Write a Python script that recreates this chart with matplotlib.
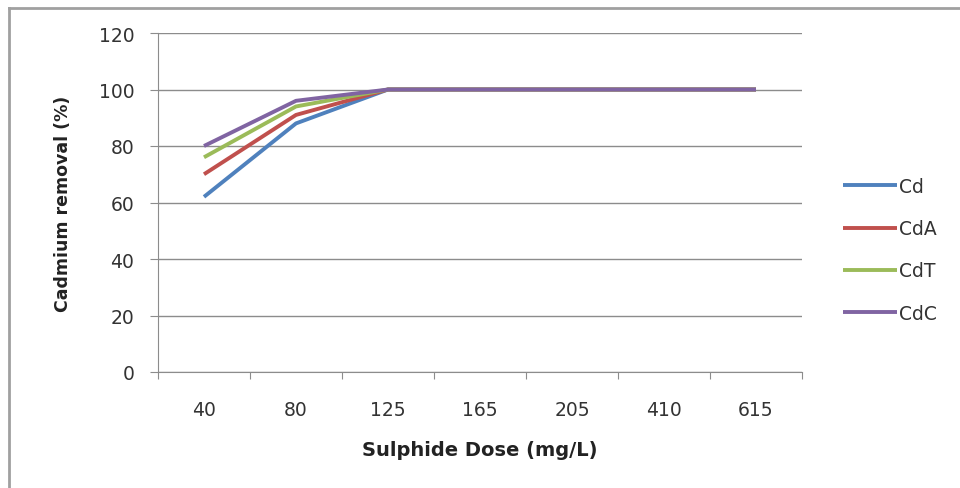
import matplotlib
matplotlib.use("Agg")
import matplotlib.pyplot as plt
from matplotlib.lines import Line2D
import numpy as np

doses = ["40", "80", "125", "165", "205", "410", "615"]
cd = [62, 88, 100, 100, 100, 100, 100]
cda = [70, 91, 100, 100, 100, 100, 100]
cdt = [76, 94, 100, 100, 100, 100, 100]
cdc = [80, 96, 100, 100, 100, 100, 100]
series_names = ["Cd", "CdA", "CdT", "CdC"]
colors = ["#4F81BD", "#C0504D", "#9BBB59", "#8064A2"]

plt.rcParams['font.family'] = ['DejaVu Sans']

fig = plt.figure(figsize=(9.6, 4.89), dpi=100)
ax = fig.add_axes([158/960, 1-373/489, (802-158)/960, (373-34)/489])

x = np.arange(len(doses))
for vals, name, c in zip([cd, cda, cdt, cdc], series_names, colors):
    ax.plot(x, vals, color=c, lw=2.8, label=name, solid_capstyle='butt')

ax.set_xlim(-0.5, len(doses) - 0.5)
ax.set_ylim(0, 120)
ax.set_yticks(np.arange(0, 121, 20))
ax.yaxis.grid(True, color="#8C8C8C", lw=1)
ax.set_axisbelow(True)

ax.set_xticks(np.arange(-0.5, len(doses), 1.0))
ax.set_xticklabels([])
ax.set_xticks(x, minor=True)
ax.set_xticklabels(doses, minor=True)
ax.tick_params(axis='x', which='major', length=5, color="#8C8C8C", direction='out')
ax.tick_params(axis='x', which='minor', length=0, pad=20, labelsize=13.5, labelcolor="#333333")
ax.tick_params(axis='y', length=6, color="#8C8C8C", labelsize=13.5, labelcolor="#333333", pad=11)

for s in ["top", "right"]:
    ax.spines[s].set_visible(False)
for s in ["left", "bottom"]:
    ax.spines[s].set_color("#8C8C8C")

ax.set_xlabel("Sulphide Dose (mg/L)", fontsize=14, fontweight='bold', labelpad=15, color="#222222")
ax.set_ylabel("Cadmium removal (%)", fontsize=12.5, fontweight='bold', labelpad=19, color="#222222")

leg = ax.legend(loc='upper left', bbox_to_anchor=(843/960, 1-178/489),
                bbox_transform=fig.transFigure, frameon=False, borderpad=0, borderaxespad=0,
                fontsize=13.5, handlelength=2.9, handletextpad=0.1, labelspacing=1.24)
for t in leg.get_texts():
    t.set_color("#333333")

fig.add_artist(Line2D([9/960, 9/960], [0, 1-9/489], color="#A0A0A0", lw=2, transform=fig.transFigure))
fig.add_artist(Line2D([9/960, 1], [1-9/489, 1-9/489], color="#A0A0A0", lw=2, transform=fig.transFigure))

fig.savefig("out.png", dpi=100)
